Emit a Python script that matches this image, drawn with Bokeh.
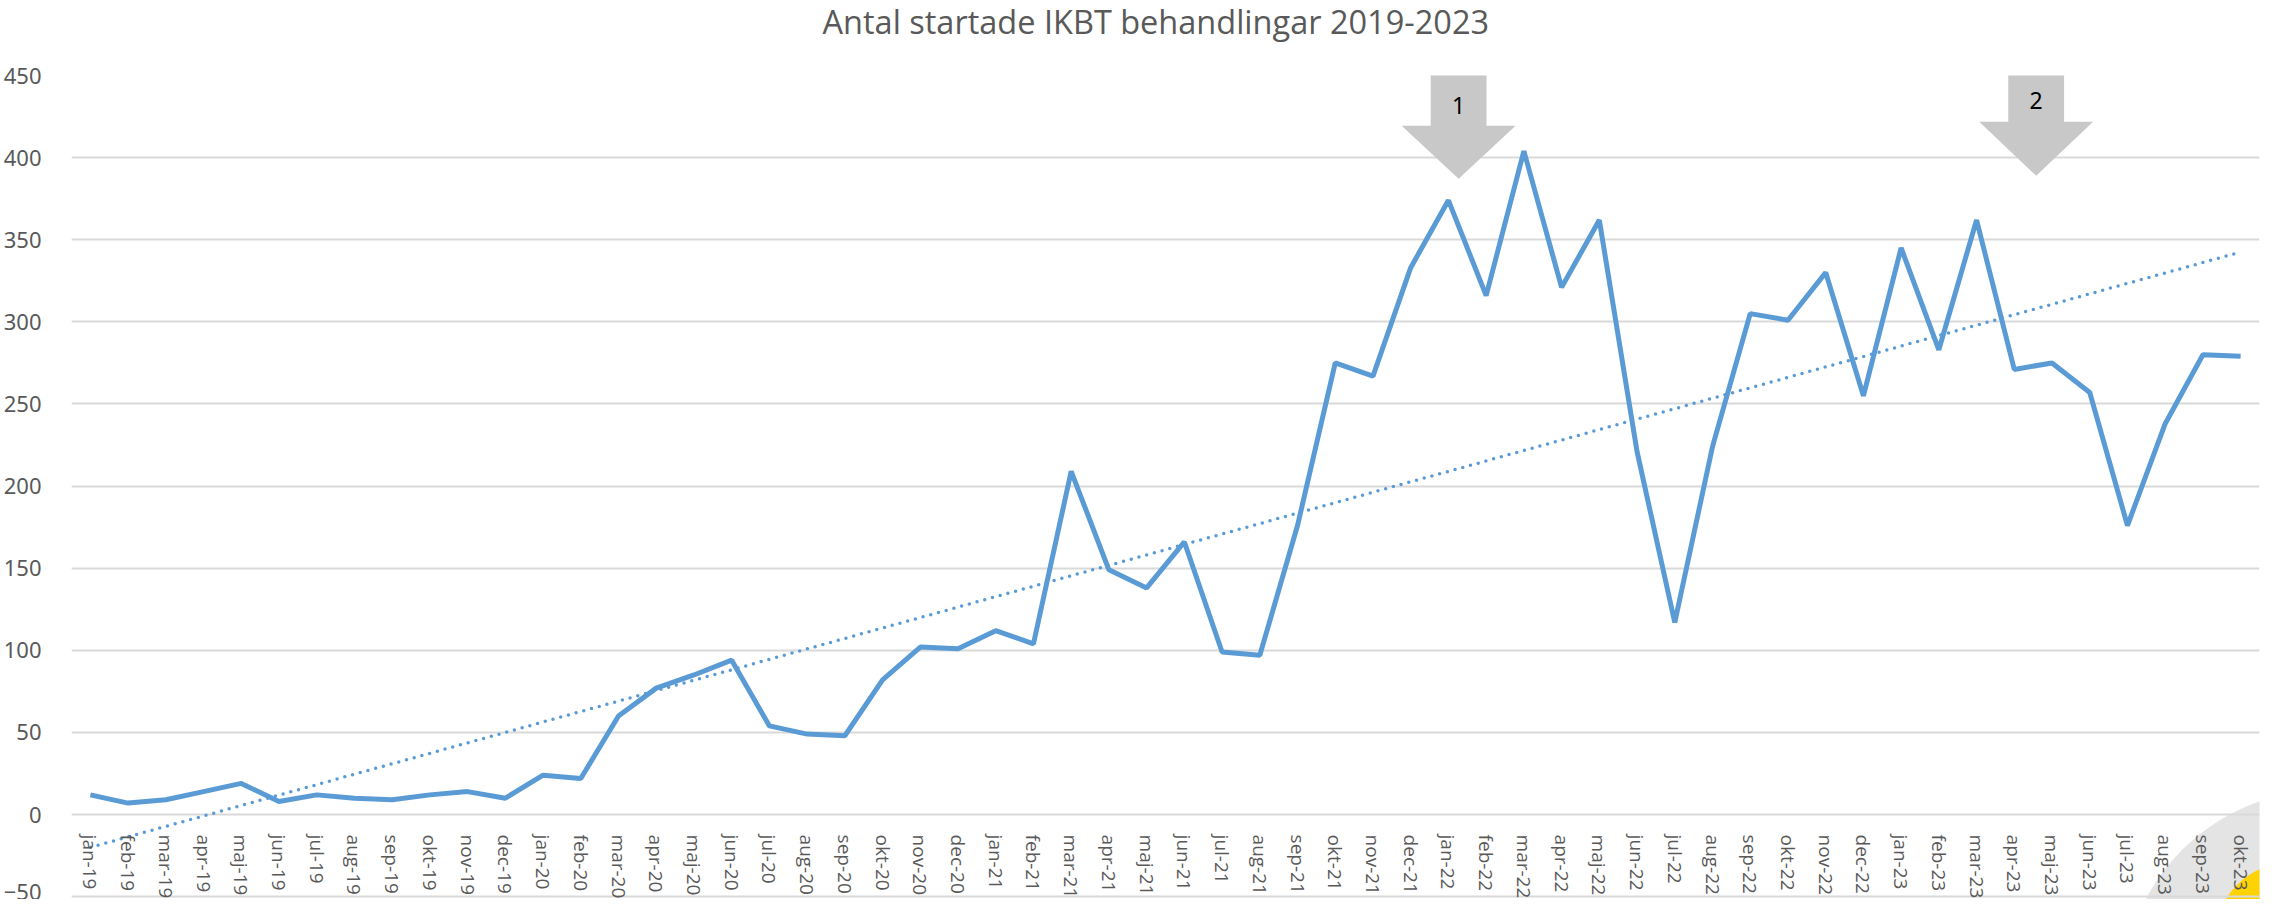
import numpy as np
from bokeh.plotting import figure
from bokeh.models import Range1d, FixedTicker, Title
from bokeh.core.properties import value
from bokeh.embed import file_html
from bokeh.resources import INLINE

# ---------------- data ----------------
TITLE = "Antal startade IKBT behandlingar 2019-2023"

months = [
    "jan-19", "feb-19", "mar-19", "apr-19", "maj-19", "jun-19", "jul-19", "aug-19", "sep-19", "okt-19", "nov-19", "dec-19",
    "jan-20", "feb-20", "mar-20", "apr-20", "maj-20", "jun-20", "jul-20", "aug-20", "sep-20", "okt-20", "nov-20", "dec-20",
    "jan-21", "feb-21", "mar-21", "apr-21", "maj-21", "jun-21", "jul-21", "aug-21", "sep-21", "okt-21", "nov-21", "dec-21",
    "jan-22", "feb-22", "mar-22", "apr-22", "maj-22", "jun-22", "jul-22", "aug-22", "sep-22", "okt-22", "nov-22", "dec-22",
    "jan-23", "feb-23", "mar-23", "apr-23", "maj-23", "jun-23", "jul-23", "aug-23", "sep-23", "okt-23",
]

counts = [
    12, 7, 9, 14, 19, 8, 12, 10, 9, 12, 14, 10,
    24, 22, 60, 77, 85, 94, 54, 49, 48, 82, 102, 101,
    112, 104, 209, 149, 138, 166, 99, 97, 176, 275, 267, 333,
    374, 316, 404, 321, 362, 221, 117, 224, 305, 301, 330, 255,
    345, 283, 362, 271, 275, 257, 176, 238, 280, 279,
]

y_ticks = [-50, 0, 50, 100, 150, 200, 250, 300, 350, 400, 450]

arrow_labels = ["1", "2"]

# ---------------- annotation geometry (not data) ----------------
ARROW_X = [36.27, 51.58]
ARROW_TOP = [452.0, 453.0]
ARROW_NECK = [419.4, 421.9]
ARROW_TIP = [387.1, 389.0]
ARROW_TEXT_Y = [432.0, 434.5]
SHAFT_HW = 0.74
HEAD_HW = 1.51

BLUE = "#5B9BD5"
GREY_TXT = "#595959"

x = np.arange(len(months))

# linear (least-squares) trend of the series, as in the original chart
slope, intercept = np.polyfit(x, counts, 1)
trend_x = [float(x[0]), float(x[-1])]
trend_y = [slope * trend_x[0] + intercept, slope * trend_x[1] + intercept]

p = figure(
    width=2269, height=899,
    x_range=Range1d(-0.5, len(months) - 0.5),
    y_range=Range1d(-51.7, 450),
    output_backend="svg", toolbar_location=None,
    min_border_left=62, min_border_right=10, min_border_top=75, min_border_bottom=0,
)
p.outline_line_color = None
p.background_fill_color = "white"
p.border_fill_color = "white"

# real title (outermost) + spacer title between it and the frame
p.title.text = TITLE
p.title.text_font = "Open Sans"
p.title.text_font_size = "32.5px"
p.title.text_font_style = "normal"
p.title.text_color = GREY_TXT
p.title.align = "left"
p.title.offset = 751
p.title.standoff = -8
p.title.vertical_align = "top"
p.add_layout(Title(text=" ", text_font_size="10px", standoff=21), "above")

# grids
p.xgrid.visible = False
p.ygrid.ticker = FixedTicker(ticks=y_ticks)
p.ygrid.grid_line_color = "#D9D9D9"
p.ygrid.grid_line_width = 2

# y axis
p.yaxis.ticker = FixedTicker(ticks=y_ticks)
p.yaxis.axis_line_color = None
p.yaxis.major_tick_line_color = None
p.yaxis.minor_tick_line_color = None
p.yaxis.major_label_text_font = "Noto Sans"
p.yaxis.major_label_text_font_size = "22px"
p.yaxis.major_label_text_color = GREY_TXT
p.yaxis.major_label_standoff = 24

# x axis, crossing at 0 with labels hanging below it
p.xaxis.fixed_location = 0
p.xaxis.ticker = FixedTicker(ticks=list(range(len(months))))
p.xaxis.major_label_overrides = {i: m for i, m in enumerate(months)}
p.xaxis.axis_line_color = None
p.xaxis.major_tick_line_color = None
p.xaxis.minor_tick_line_color = None
p.xaxis.major_label_orientation = "vertical"
p.xaxis.major_label_text_font = "Open Sans"
p.xaxis.major_label_text_font_size = "19px"
p.xaxis.major_label_text_color = GREY_TXT
p.xaxis.major_label_standoff = 14

# corner logo fragments (behind everything)
p.circle(x=[59.29], y=[-109.8], radius=205, radius_units="screen",
         fill_color="#E4E4E4", line_color=None, level="image")
p.circle(x=[58.37], y=[-76.3], radius=78, radius_units="screen",
         fill_color="#FFD200", line_color=None, level="image")

# series
p.line(x, counts, line_color=BLUE, line_width=5)
p.line(trend_x, trend_y, line_color=BLUE, line_width=3.5, line_dash="0 8", line_cap="round")

# arrows
xs, ys = [], []
for cx, top, neck, tip in zip(ARROW_X, ARROW_TOP, ARROW_NECK, ARROW_TIP):
    xs.append([cx - SHAFT_HW, cx + SHAFT_HW, cx + SHAFT_HW, cx + HEAD_HW, cx, cx - HEAD_HW, cx - SHAFT_HW])
    ys.append([top, top, neck, neck, tip, neck, neck])
p.patches(xs, ys, fill_color="#C8C8C8", line_color=None)
p.text(x=ARROW_X, y=ARROW_TEXT_Y, text=arrow_labels, text_font=value("Noto Sans"),
       text_font_size="23px", text_align="center", text_baseline="middle", text_color="#000000")

open("out.html", "w").write(file_html(p, INLINE))
